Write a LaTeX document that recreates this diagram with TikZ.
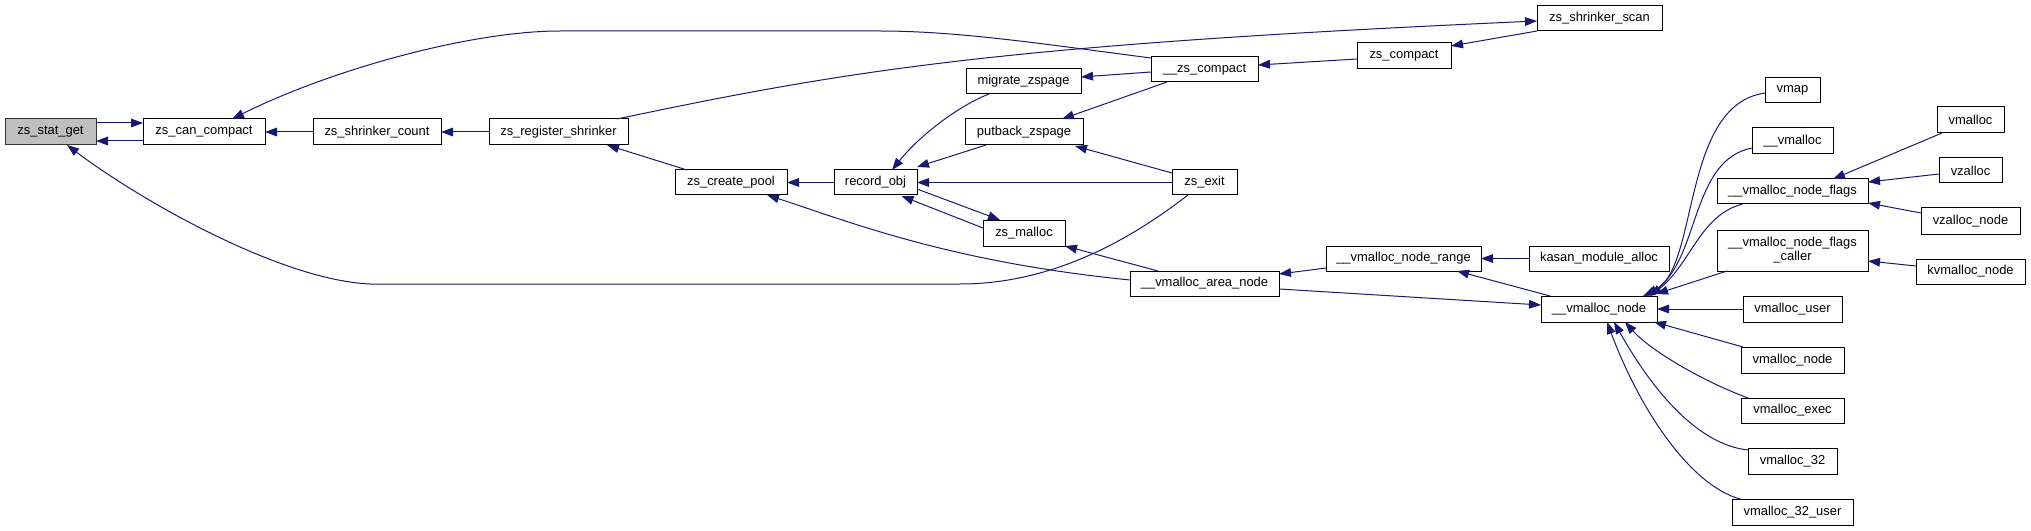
\documentclass[tikz,border=0pt]{standalone}
\usepackage{fontspec}
\setmainfont{Liberation Sans}
\usetikzlibrary{arrows.meta,calc}
\definecolor{edgec}{HTML}{191970}
\definecolor{selfill}{HTML}{BFBFBF}
\newcommand\bx[7][]{\node[box,#1,minimum width={(#4-#2)*0.75pt},minimum height={(#5-#3)*0.75pt}] (#6) at ({(#2+#4)/2},{(#3+#5)/2}) {#7};}
\tikzset{
  box/.style={draw=black,line width=0.75pt,rectangle,inner sep=0pt,outer sep=0pt,fill=white,align=center,font=\fontsize{9.7pt}{10.5pt}\selectfont},
  sel/.style={fill=selfill,draw=black!80},
  edge/.style={draw=edgec,line width=0.75pt,-{Triangle[length=9pt,width=6.5pt,fill=edgec]}}
}
\begin{document}
\begin{tikzpicture}[x=0.75pt,y=-0.75pt]
\useasboundingbox (0,0) rectangle (2031,531);
% nodes
\bx[sel]{5}{119}{96}{145}{stat}{zs\_stat\_get}
\bx{143}{119}{265}{145}{can}{zs\_can\_compact}
\bx{313}{119}{441}{145}{cnt}{zs\_shrinker\_count}
\bx{489}{119}{628}{145}{reg}{zs\_register\_shrinker}
\bx{675}{170}{787}{195}{pool}{zs\_create\_pool}
\bx{966}{69}{1081}{94}{mig}{migrate\_zspage}
\bx{965}{119}{1083}{145}{put}{putback\_zspage}
\bx{834}{170}{917}{195}{rec}{record\_obj}
\bx{983}{220}{1065}{246}{zsm}{zs\_malloc}
\bx{1151}{57}{1258}{82}{zcp}{\_\_zs\_compact}
\bx{1172}{170}{1237}{195}{exit}{zs\_exit}
\bx{1357}{43}{1451}{69}{zc}{zs\_compact}
\bx{1537}{6}{1662}{31}{scan}{zs\_shrinker\_scan}
\bx{1326}{246}{1481}{271}{range}{\_\_vmalloc\_node\_range}
\bx{1529}{246}{1669}{271}{kasan}{kasan\_module\_alloc}
\bx{1130}{271}{1279}{296}{area}{\_\_vmalloc\_area\_node}
\bx{1541}{296}{1657}{322}{vn}{\_\_vmalloc\_node}
\bx{1765}{78}{1820}{103}{vmap}{vmap}
\bx{1752}{128}{1833}{154}{uvm}{\_\_vmalloc}
\bx{1717}{179}{1868}{204}{flags}{\_\_vmalloc\_node\_flags}
\bx{1717}{230}{1868}{271}{caller}{\_\_vmalloc\_node\_flags\\\_caller}
\bx{1937}{107}{2004}{133}{vmalloc}{vmalloc}
\bx{1939}{158}{2002}{183}{vz}{vzalloc}
\bx{1921}{208}{2020}{234}{vzn}{vzalloc\_node}
\bx{1916}{259}{2025}{284}{kv}{kvmalloc\_node}
\bx{1743}{296}{1842}{322}{vu}{vmalloc\_user}
\bx{1741}{347}{1844}{373}{vnode}{vmalloc\_node}
\bx{1741}{398}{1844}{423}{vexec}{vmalloc\_exec}
\bx{1748}{448}{1837}{474}{vtt}{vmalloc\_32}
\bx{1732}{499}{1853}{525}{vttu}{vmalloc\_32\_user}
% edges
\draw[edge] ($(stat.east)+(0,-9)$) -- ($(can.west)+(0,-9)$);
\draw[edge] ($(can.west)+(0,9)$) -- ($(stat.east)+(0,9)$);
\draw[edge] (cnt.west) -- (can.east);
\draw[edge] (reg.west) -- (cnt.east);
\draw[edge] ($(zcp.west)+(0,-11.5)$) .. controls (1050,45) and (960,31) .. (880,31) -- (560,31) .. controls (470,31) and (330,70) .. ($(can.north)+(28,0)$);
\draw[edge] ($(reg.north east)+(-11,0)$) .. controls (850,70) and (1000,45) .. ($(scan.west)+(0,2.5)$);
\draw[edge] (scan.south west) -- ($(zc.east)+(0,-10)$);
\draw[edge] ($(zc.west)+(0,3)$) -- ($(zcp.east)+(0,-4.5)$);
\draw[edge] ($(zcp.west)+(0,2.5)$) -- ($(mig.east)+(0,-4.5)$);
\draw[edge] ($(zcp.south)+(-37.5,0)$) -- ($(put.north)+(38,0)$);
\draw[edge] ($(mig.south)+(-34.5,0)$) .. controls (960,105) and (920,135) .. ($(rec.north)+(16.5,0)$);
\draw[edge] ($(put.south)+(-38,0)$) -- ($(rec.north east)+(0,-3)$);
\draw[edge] (exit.west) -- (rec.east);
\draw[edge] ($(exit.west)+(0,-9.5)$) -- ($(put.south east)+(-8,1)$);
\draw[edge] ($(rec.east)+(0,6.5)$) -- ($(zsm.north)+(-24,0)$);
\draw[edge] ($(zsm.west)+(0,-5)$) -- ($(rec.south)+(26,1)$);
\draw[edge] (rec.west) -- (pool.east);
\draw[edge] ($(pool.north)+(-44,0)$) -- ($(reg.south)+(48.5,0)$);
\draw[edge] ($(area.west)+(0,-3.5)$) .. controls (950,262) and (850,222) .. ($(pool.south)+(36,0)$);
\draw[edge] ($(exit.south)+(-16.5,0)$) .. controls (1140,232) and (1060,284) .. (960,284) -- (370,284) .. controls (280,280) and (140,200) .. ($(stat.south)+(16.5,0)$);
\draw[edge] ($(area.north)+(-46.5,0)$) -- (zsm.south east);
\draw[edge] ($(range.west)+(0,9.5)$) -- ($(area.east)+(0,-9.5)$);
\draw[edge] (kasan.west) -- (range.east);
\draw[edge] ($(vn.north)+(-49,0)$) -- ($(range.south)+(53.5,0)$);
\draw[edge] ($(area.east)+(0,5.5)$) -- ($(vn.west)+(0,-4)$);
\draw[edge] ($(vmap.west)+(0,2.5)$) .. controls (1680,105) and (1700,270) .. ($(vn.north)+(44,0)$);
\draw[edge] ($(uvm.west)+(0,7)$) .. controls (1690,160) and (1700,260) .. ($(vn.north)+(47,0)$);
\draw[edge] ($(flags.south)+(-50,0)$) .. controls (1700,215) and (1690,265) .. ($(vn.north)+(51,0)$);
\draw[edge] ($(caller.south west)+(10,0)$) -- ($(vn.north east)+(-1,-2)$);
\draw[edge] (vu.west) -- (vn.east);
\draw[edge] ($(vnode.north west)+(2,0)$) -- ($(vn.south east)+(-3,0)$);
\draw[edge] ($(vexec.north west)+(7,0)$) .. controls (1700,380) and (1650,350) .. ($(vn.south)+(26,0)$);
\draw[edge] ($(vtt.west)+(0,-11)$) .. controls (1700,445) and (1655,395) .. ($(vn.south)+(15,0)$);
\draw[edge] ($(vttu.north west)+(8,0)$) .. controls (1690,485) and (1640,410) .. ($(vn.south)+(8,0)$);
\draw[edge] ($(vmalloc.south west)+(5,0)$) -- ($(flags.north)+(40.5,0)$);
\draw[edge] ($(vz.west)+(0,3.5)$) -- ($(flags.east)+(0,-9.5)$);
\draw[edge] ($(vzn.west)+(0,-8)$) -- ($(flags.south east)+(0,-1)$);
\draw[edge] ($(kv.west)+(0,-5.5)$) -- ($(caller.east)+(0,10.5)$);
\end{tikzpicture}
\end{document}
